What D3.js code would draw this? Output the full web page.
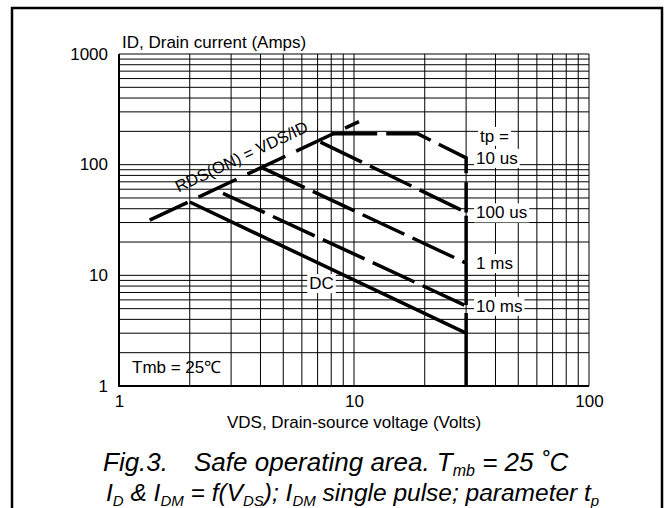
<!DOCTYPE html>
<html>
<head>
<meta charset="utf-8">
<script src="https://cdn.jsdelivr.net/npm/d3@7"></script>
<style>
  body { margin: 0; background: #fff; }
  text { font-family: "Liberation Sans", Arial, sans-serif; fill: #000; }
</style>
</head>
<body>
<svg id="chart" width="667" height="508"></svg>
<script>
// safe operating area: log-log, VDS (V) vs ID (A)
const x_ticks = [1, 10, 100];
const y_ticks = [1, 10, 100, 1000];
const x_domain = [1, 100];
const y_domain = [1, 1000];

// RDS(ON) limit line (dashed)
const rds_v = [1.35, 10.5];
const rds_i = [31.5, 245];

// pulse curves; last points run down the 30 V limit
const curve_names = ["10 us", "100 us", "1 ms", "10 ms", "DC"];
const curve_v = [[8.0, 18.7, 30, 30], [7.2, 30, 30], [4.1, 30, 30], [2.77, 30, 30], [2.0, 30, 30]];
const curve_i = [[190, 190, 115, 37], [160, 37, 12.9], [93, 12.9, 5.3], [55, 5.3, 3.0], [46, 3.0, 1]];
const curve_dashed = [true, true, true, true, false];

const g_plot = { left: 119, right: 589, top: 54, bottom: 386 };

const svg = d3.select("#chart");

// outer frame
svg.append("rect").attr("x", 12).attr("y", 8).attr("width", 650).attr("height", 520)
    .attr("style", "fill:none; stroke:#000; stroke-width:2.5");

const sx = d3.scaleLog().domain(x_domain).range([g_plot.left, g_plot.right]);
const sy = d3.scaleLog().domain(y_domain).range([g_plot.bottom, g_plot.top]);

// grid (every 1..9 of each decade)
const grid = svg.append("g");
grid.selectAll(".vg").data(sx.ticks()).join("line").classed("vg", true)
    .attr("x1", d => sx(d)).attr("x2", d => sx(d))
    .attr("y1", g_plot.top).attr("y2", g_plot.bottom)
    .attr("style", "stroke:#000; stroke-width:1");
grid.selectAll(".hg").data(sy.ticks()).join("line").classed("hg", true)
    .attr("x1", g_plot.left).attr("x2", g_plot.right)
    .attr("y1", d => sy(d)).attr("y2", d => sy(d))
    .attr("style", "stroke:#000; stroke-width:1");
// heavier left / bottom edges
svg.append("line").attr("x1", g_plot.left).attr("x2", g_plot.left)
    .attr("y1", g_plot.top).attr("y2", g_plot.bottom + 1)
    .attr("style", "stroke:#000; stroke-width:2");
svg.append("line").attr("x1", g_plot.left).attr("x2", g_plot.right)
    .attr("y1", g_plot.bottom).attr("y2", g_plot.bottom)
    .attr("style", "stroke:#000; stroke-width:2");

// axes (labels only)
const ax = svg.append("g").attr("transform", "translate(0," + (g_plot.bottom + 16) + ")")
    .call(d3.axisBottom(sx).tickValues(x_ticks).tickFormat(d3.format("d")).tickSize(0).tickPadding(0));
const ay = svg.append("g").attr("transform", "translate(" + (g_plot.left - 11) + ",0)")
    .call(d3.axisLeft(sy).tickValues(y_ticks).tickFormat(d3.format("d")).tickSize(0).tickPadding(0));
[ax, ay].forEach(a => {
    a.select(".domain").remove();
    a.selectAll("text").attr("font-size", 17).attr("font-family", "Liberation Sans, Arial, sans-serif")
        .attr("fill", "#000");
});
ax.selectAll("text").attr("dy", "0.32em");
ay.selectAll("text").attr("dy", "0.3em");

svg.append("text").attr("x", 122).attr("y", 48).attr("font-size", 17)
    .text("ID, Drain current (Amps)");
svg.append("text").attr("x", (g_plot.left + g_plot.right) / 2).attr("y", 428)
    .attr("text-anchor", "middle").attr("font-size", 17)
    .text("VDS, Drain-source voltage (Volts)");

// curves
const line = d3.line().x(d => sx(d[0])).y(d => sy(d[1]));
const curves = curve_names.map((n, k) => ({
    name: n, dashed: curve_dashed[k],
    pts: curve_v[k].map((v, j) => [v, curve_i[k][j]])
}));
svg.selectAll(".crv").data(curves).join("path").classed("crv", true)
    .attr("d", c => line(c.pts))
    .attr("style", c => "fill:none; stroke:#000; stroke-width:3.5; stroke-linejoin:miter;"
        + (c.dashed ? " stroke-dasharray:46,9;" : ""));

svg.append("path").attr("d", line(rds_v.map((v, j) => [v, rds_i[j]])))
    .attr("style", "fill:none; stroke:#000; stroke-width:3.5; stroke-dasharray:42,12");

// RDS label along its line
const ang = Math.atan2(sy(rds_i[1]) - sy(rds_i[0]), sx(rds_v[1]) - sx(rds_v[0])) * 180 / Math.PI;
const lx = sx(3.4), ly = sy(3.4 * rds_i[0] / rds_v[0]) - 14;
svg.append("text").attr("transform", "translate(" + lx + "," + ly + ") rotate(" + ang + ")")
    .attr("text-anchor", "middle").attr("font-size", 16.5)
    .text("RDS(ON) = VDS/ID");

// labels with white backing
function boxed_label(x, y, txt) {
    const g = svg.append("g");
    const r = g.append("rect").attr("fill", "#fff");
    const t = g.append("text").attr("x", x).attr("y", y).attr("dy", "0.35em")
        .attr("font-size", 17).text(txt);
    const b = t.node().getBBox();
    r.attr("x", b.x - 2).attr("y", b.y).attr("width", b.width + 4).attr("height", b.height);
}
const lab_x = sx(30) + 10;
// label each pulse curve where it first meets the 30 V limit
const end_i = curves.map(c => c.pts.find(p => p[0] === 30)[1]);
boxed_label(lab_x + 4, sy(end_i[0]) - 22, "tp =");
curves.slice(0, 4).forEach((c, k) => boxed_label(lab_x, sy(end_i[k]), c.name));
boxed_label(sx(6.45), sy(8.5), "DC");

svg.append("text").attr("x", 132).attr("y", 367).attr("dy", "0.35em").attr("font-size", 17)
    .text("Tmb = 25℃");

// caption
const cap = svg.append("g").attr("style", "font-style:italic");
const c1 = cap.append("text").attr("x", 103).attr("y", 471).attr("font-size", 26);
c1.append("tspan").text("Fig.3.");
c1.append("tspan").attr("dx", 26).text("Safe operating area. T");
c1.append("tspan").attr("font-size", 16).attr("dy", 5).text("mb");
c1.append("tspan").attr("dy", -5).text(" = 25 ˚C");

const c2 = cap.append("text").attr("x", 106).attr("y", 501).attr("font-size", 24.5);
const parts = [["I", 0], ["D", 1], [" & I", 0], ["DM", 1], [" = f(V", 0], ["DS", 1], ["); I", 0], ["DM", 1],
    [" single pulse; parameter t", 0], ["p", 1]];
let sub = 0;
parts.forEach(p => {
    const ts = c2.append("tspan").text(p[0]);
    if (p[1] !== sub) ts.attr("dy", p[1] ? 5 : -5);
    if (p[1]) ts.attr("font-size", 15);
    sub = p[1];
});
</script>
</body>
</html>
